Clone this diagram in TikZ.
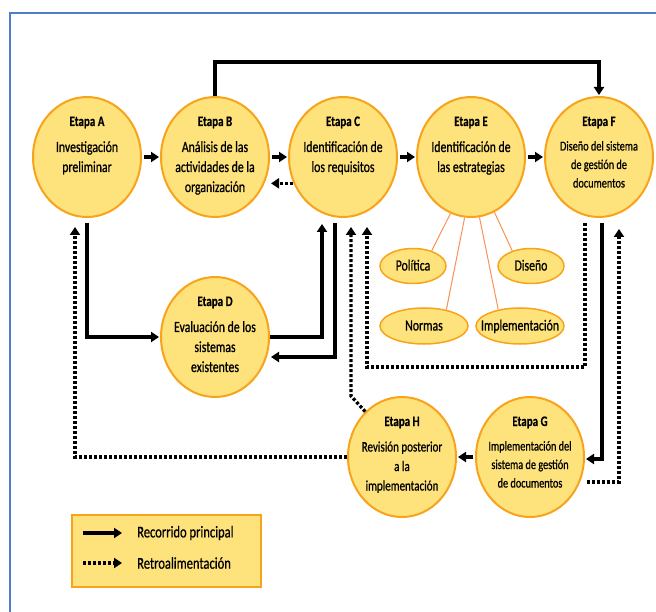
\documentclass[tikz,border=0pt]{standalone}
\usepackage{fontspec}
\setmainfont{Carlito}[FakeStretch=0.76, UprightFeatures={FakeBold=0.7}, BoldFeatures={FakeBold=0.5}]
\usetikzlibrary{arrows.meta,shapes.geometric}
\definecolor{stfill}{RGB}{254,226,124}
\definecolor{stdraw}{RGB}{248,163,28}
\definecolor{subline}{RGB}{247,145,85}
\definecolor{frameblue}{RGB}{80,125,200}
\newcommand\stg[5]{\smash{\makebox[0pt]{\raisebox{31pt}{\fontsize{#1}{#2}\selectfont\begin{tabular}[t]{@{}c@{}}{\fontsize{#3}{#3}\selectfont\textbf{#4}}\\[6pt]#5\end{tabular}}}}}
\newcommand\subt[1]{\smash{\makebox[0pt]{\raisebox{-4.5pt}{\fontsize{15.5}{17}\selectfont #1}}}}
\begin{document}
\begin{tikzpicture}[x=1pt,y=-1pt,
  stage/.style={ellipse, draw=stdraw, line width=2pt, fill=stfill, minimum width=108pt, minimum height=120pt, inner sep=0pt},
  subell/.style={ellipse, draw=stdraw, line width=1.5pt, fill=stfill, inner sep=0pt},
  subln/.style={draw=subline, line width=1pt},
  mainarr/.style={draw=black, line width=3.3pt, -{Triangle[length=8pt,width=10pt]}, shorten >=1pt},
  fbarr/.style={draw=black, line width=3.3pt, dash pattern=on 3pt off 2pt, -{Triangle[length=8pt,width=10pt]}, shorten >=1pt},
  legbox/.style={draw=stdraw, line width=2.5pt, fill=stfill, minimum width=189pt, minimum height=72pt, inner sep=0pt},
  legtxt/.style={anchor=west, font=\fontsize{16.5}{18}\selectfont, inner sep=0pt}]
\useasboundingbox (0,0) rectangle (656,612);
\draw[frameblue, line width=1.5pt] (10,614) -- (10,13) -- (658,13);

\node[stage] (A) at (87,157) {\stg{15.5}{20}{14.5}{Etapa A}{Investigación\\preliminar}};
\node[stage] (B) at (215,157) {\stg{15.5}{20}{14.5}{Etapa B}{Análisis de las\\actividades de la\\organización}};
\node[stage] (C) at (343,157) {\stg{15.5}{20}{14.5}{Etapa C}{Identificación de\\los requisitos}};
\node[stage] (E) at (471,157) {\stg{15.5}{20}{14.5}{Etapa E}{Identificación de\\las estrategias}};
\node[stage] (F) at (599,157) {\stg{13.5}{18.5}{14.5}{Etapa F}{Diseño del sistema\\de gestión de\\documentos}};
\node[stage] (D) at (215,337) {\stg{15.5}{20}{14.5}{Etapa D}{Evaluación de los\\sistemas\\existentes}};
\node[stage] (H) at (402,457) {\stg{14.5}{19.5}{14.5}{Etapa H}{Revisión posterior\\a la\\implementación}};
\node[stage] (G) at (530,457) {\stg{13.5}{18.5}{14.5}{Etapa G}{Implementación del\\sistema de gestión\\de documentos}};

\node[subell, minimum width=66pt, minimum height=35pt] (pol) at (413,266) {\subt{Política}};
\node[subell, minimum width=66pt, minimum height=35pt] (dis) at (531,266) {\subt{Diseño}};
\node[subell, minimum width=88pt, minimum height=36pt] (nor) at (424,326) {\subt{Normas}};
\node[subell, minimum width=88pt, minimum height=36pt] (imp) at (520,326) {\subt{Implementación}};

\draw[subln] (E.-110) -- (pol.39);
\draw[subln] (E.-96) -- (nor.36);
\draw[subln] (E.-82) -- (imp.143);
\draw[subln] (E.-67) -- (dis.141);

\draw[mainarr, shorten <=2pt] (A) -- (B);
\draw[mainarr, shorten <=2pt] (B) -- (C);
\draw[mainarr, shorten <=2pt] (C) -- (E);
\draw[mainarr, shorten <=2pt] (E) -- (F);
\draw[mainarr, shorten <=2pt] (G) -- (H);
\draw[fbarr] (C.208) -- (C.208 -| B.east);
\draw[mainarr] (B.north) -- (215,62) -- (599,62) -- (F.north);
\draw[mainarr] ([yshift=-5pt]A.south) |- (D.west);
\draw[mainarr] (D.east) -| ([xshift=-21pt,yshift=-5pt]C.south);
\draw[mainarr] ([xshift=-8pt,yshift=-5pt]C.south) |- ([yshift=-20pt]D.east);
\draw[fbarr] (H.west) -| ([xshift=-12pt,yshift=-8pt]A.south);
\draw[fbarr] (H.129) -- (351,396) -- ([xshift=8pt,yshift=-8pt]C.south);
\draw[fbarr] ([xshift=-14pt,yshift=-5pt]F.south) |- (367,367) -- ([xshift=24pt,yshift=-8pt]C.south);
\draw[mainarr] ([xshift=3pt,yshift=-5pt]F.south) |- ([yshift=-2pt]G.east);
\draw[fbarr] ([yshift=-25pt,xshift=2pt]G.east) -| ([xshift=20pt,yshift=-10pt]F.south);

\node[legbox] (leg) at (166.5,551) {};
\coordinate (l1a) at (83,533);
\coordinate (l1b) at (123,533);
\coordinate (l2a) at (83,563);
\coordinate (l2b) at (123,563);
\draw[mainarr] (l1a) -- (l1b);
\draw[fbarr] (l2a) -- (l2b);
\node[legtxt] (t1) at (137,533) {Recorrido principal};
\node[legtxt] (t2) at (137,563) {Retroalimentación};
\end{tikzpicture}
\end{document}
